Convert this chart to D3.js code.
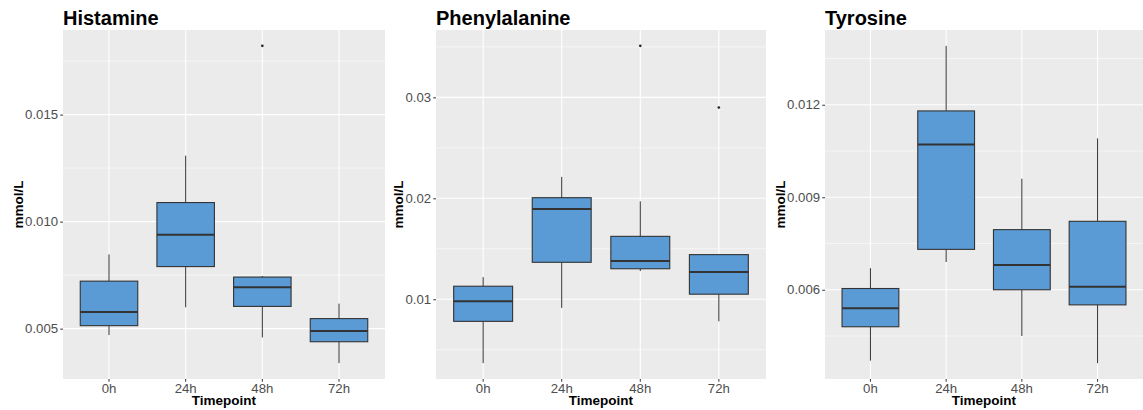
<!DOCTYPE html>
<html>
<head>
<meta charset="utf-8">
<script src="https://cdn.jsdelivr.net/npm/d3@7"></script>
<style>
  body { margin: 0; background: #fff; }
  svg { font-family: "Liberation Sans", Arial, sans-serif; display: block; }
  .tick-label { fill: #4d4d4d; font-size: 13.2px; }
  .axis-title { fill: #000; font-size: 13.5px; font-weight: bold; }
  .panel-title { fill: #000; font-size: 20px; font-weight: bold; }
</style>
</head>
<body>
<div id="chart"></div>
<script>
const timepoints = ["0h", "24h", "48h", "72h"];

// box stats per timepoint: [lower whisker, Q1, median, Q3, upper whisker]
const histamineStats = [
  [0.00470, 0.00514, 0.00578, 0.00722, 0.00847],
  [0.00600, 0.00790, 0.00939, 0.01089, 0.01308],
  [0.00459, 0.00604, 0.00693, 0.00741, 0.00746],
  [0.00339, 0.00439, 0.00489, 0.00547, 0.00617]
];
const histamineOutliers = [{ t: "48h", v: 0.01821 }];
const histamineTicks = [0.005, 0.010, 0.015];

const phenylalanineStats = [
  [0.00367, 0.00781, 0.00980, 0.01129, 0.01219],
  [0.00914, 0.01366, 0.01894, 0.02006, 0.02212],
  [0.01279, 0.01302, 0.01378, 0.01623, 0.01970],
  [0.00781, 0.01050, 0.01269, 0.01442, 0.01442]
];
const phenylalanineOutliers = [{ t: "48h", v: 0.0351 }, { t: "72h", v: 0.0290 }];
const phenylalanineTicks = [0.01, 0.02, 0.03];

const tyrosineStats = [
  [0.00370, 0.00480, 0.00540, 0.00604, 0.00670],
  [0.00690, 0.00731, 0.01071, 0.01180, 0.01391],
  [0.00450, 0.00600, 0.00680, 0.00795, 0.00960],
  [0.00362, 0.00551, 0.00610, 0.00822, 0.01091]
];
const tyrosineOutliers = [];
const tyrosineTicks = [0.006, 0.009, 0.012];

class BoxPanel {

  constructor(_config) {
    this.config = {
      svg: _config.svg,
      left: _config.left,
      right: _config.right,
      top: 30,
      bottom: 379,
      title: _config.title,
      format: _config.format
    };
    this.stats = _config.stats;
    this.outliers = _config.outliers;
    this.ticks = _config.ticks;
    this.initVis();
  }

  initVis() {
    let vis = this;
    let c = vis.config;
    vis.width = c.right - c.left;
    vis.height = c.bottom - c.top;

    vis.g = c.svg.append("g")
        .attr("transform", "translate(" + c.left + "," + c.top + ")");

    // ggplot style: 5% expansion on continuous, 0.6 units on discrete
    let vals = vis.stats.flat().concat(vis.outliers.map(d => d.v));
    let ext = d3.extent(vals);
    let pad = (ext[1] - ext[0]) * 0.05;

    vis.yScale = d3.scaleLinear()
        .domain([ext[0] - pad, ext[1] + pad])
        .range([vis.height, 0]);

    vis.xScale = d3.scaleBand()
        .domain(timepoints)
        .range([0, vis.width])
        .paddingInner(0.25)
        .paddingOuter(0.225);

    vis.updateVis();
  }

  updateVis() {
    let vis = this;
    let c = vis.config;
    let x = vis.xScale, y = vis.yScale;
    let bw = x.bandwidth();
    let cx = t => x(t) + bw / 2;

    // panel background
    vis.g.append("rect")
        .attr("width", vis.width)
        .attr("height", vis.height)
        .attr("fill", "#ebebeb");

    // minor gridlines halfway between the major ticks
    let step = vis.ticks[1] - vis.ticks[0];
    let minor = [vis.ticks[0] - step / 2].concat(vis.ticks.map(t => t + step / 2))
        .filter(v => v >= y.domain()[0] && v <= y.domain()[1]);

    vis.g.selectAll(".minor").data(minor).enter().append("line")
        .attr("x1", 0).attr("x2", vis.width)
        .attr("y1", d => y(d)).attr("y2", d => y(d))
        .attr("stroke", "#fff").attr("stroke-width", 0.55);

    vis.g.selectAll(".major-y").data(vis.ticks).enter().append("line")
        .attr("x1", 0).attr("x2", vis.width)
        .attr("y1", d => y(d)).attr("y2", d => y(d))
        .attr("stroke", "#fff").attr("stroke-width", 1.1);

    vis.g.selectAll(".major-x").data(timepoints).enter().append("line")
        .attr("x1", d => cx(d)).attr("x2", d => cx(d))
        .attr("y1", 0).attr("y2", vis.height)
        .attr("stroke", "#fff").attr("stroke-width", 1.1);

    // boxes
    let box = vis.g.selectAll(".box")
        .data(vis.stats.map((s, i) => ({ t: timepoints[i], s: s })))
      .enter().append("g")
        .attr("class", "box");

    box.append("line")
        .attr("x1", d => cx(d.t)).attr("x2", d => cx(d.t))
        .attr("y1", d => y(d.s[4])).attr("y2", d => y(d.s[3]))
        .attr("stroke", "#333").attr("stroke-width", 1);

    box.append("line")
        .attr("x1", d => cx(d.t)).attr("x2", d => cx(d.t))
        .attr("y1", d => y(d.s[1])).attr("y2", d => y(d.s[0]))
        .attr("stroke", "#333").attr("stroke-width", 1);

    box.append("rect")
        .attr("x", d => x(d.t))
        .attr("y", d => y(d.s[3]))
        .attr("width", bw)
        .attr("height", d => y(d.s[1]) - y(d.s[3]))
        .attr("fill", "#5a9bd5")
        .attr("stroke", "#333").attr("stroke-width", 1.1);

    box.append("line")
        .attr("x1", d => x(d.t)).attr("x2", d => x(d.t) + bw)
        .attr("y1", d => y(d.s[2])).attr("y2", d => y(d.s[2]))
        .attr("stroke", "#333").attr("stroke-width", 2);

    vis.g.selectAll(".outlier").data(vis.outliers).enter().append("circle")
        .attr("cx", d => cx(d.t))
        .attr("cy", d => y(d.v))
        .attr("r", 1.3)
        .attr("fill", "#222");

    // axes
    let yAxis = d3.axisLeft(y).tickValues(vis.ticks)
        .tickFormat(d3.format(c.format)).tickSize(2.75).tickPadding(2.2);
    let yAxisGroup = vis.g.append("g").call(yAxis);
    yAxisGroup.select(".domain").remove();
    yAxisGroup.selectAll("line").attr("stroke", "#333").attr("stroke-width", 1);
    yAxisGroup.selectAll("text").attr("class", "tick-label").attr("font-size", null).attr("font-family", null);

    let xAxis = d3.axisBottom(x).tickSize(2.75).tickPadding(2.2);
    let xAxisGroup = vis.g.append("g")
        .attr("transform", "translate(0," + vis.height + ")")
        .call(xAxis);
    xAxisGroup.select(".domain").remove();
    xAxisGroup.selectAll("line").attr("stroke", "#333").attr("stroke-width", 1);
    xAxisGroup.selectAll("text").attr("class", "tick-label").attr("font-size", null).attr("font-family", null);

    // titles
    c.svg.append("text")
        .attr("class", "panel-title")
        .attr("x", c.left)
        .attr("y", 25)
        .text(c.title);

    c.svg.append("text")
        .attr("class", "axis-title")
        .attr("text-anchor", "middle")
        .attr("x", c.left + vis.width / 2)
        .attr("y", 405)
        .text("Timepoint");

    // y title sits just left of the widest tick label
    let labelLeft = c.left + yAxisGroup.node().getBBox().x;
    c.svg.append("text")
        .attr("class", "axis-title")
        .attr("text-anchor", "middle")
        .attr("transform", "translate(" + (labelLeft - 2) + "," + (c.top + vis.height / 2) + ") rotate(-90)")
        .text("mmol/L");
  }
}

const svg = d3.select("#chart").append("svg")
    .attr("width", 1143)
    .attr("height", 410);

new BoxPanel({ svg: svg, left: 63, right: 385, title: "Histamine",
  stats: histamineStats, outliers: histamineOutliers, ticks: histamineTicks, format: ".3f" });
new BoxPanel({ svg: svg, left: 436, right: 766, title: "Phenylalanine",
  stats: phenylalanineStats, outliers: phenylalanineOutliers, ticks: phenylalanineTicks, format: ".2f" });
new BoxPanel({ svg: svg, left: 825, right: 1143, title: "Tyrosine",
  stats: tyrosineStats, outliers: tyrosineOutliers, ticks: tyrosineTicks, format: ".3f" });
</script>
</body>
</html>
